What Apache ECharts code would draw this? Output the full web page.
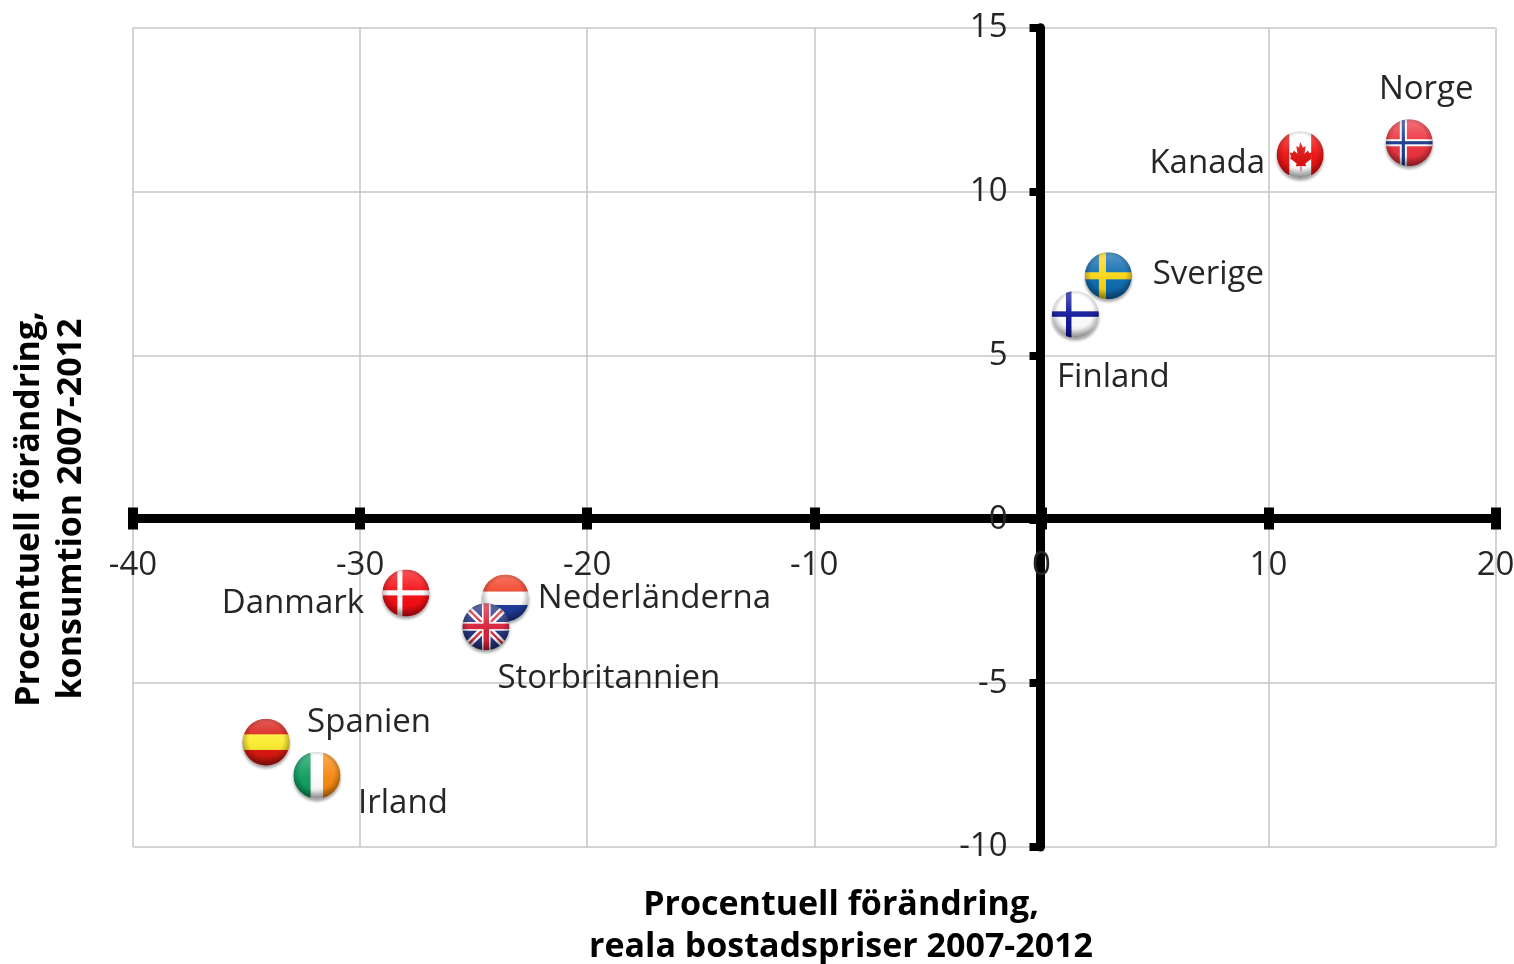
<!DOCTYPE html>
<html><head><meta charset="utf-8">
<style>html,body{margin:0;padding:0;background:#fff}#c{width:1514px;height:964px}</style>
<script src="https://cdn.jsdelivr.net/npm/echarts@6/dist/echarts.min.js"></script>
</head><body><div id="c"></div>
<script>
const countries = ['Norge','Kanada','Sverige','Finland','Danmark','Nederländerna','Storbritannien','Spanien','Irland'];
const housePrices = [16.2,11.4,2.95,1.5,-27.98,-23.6,-24.46,-34.14,-31.9];
const consumption = [11.49,11.13,7.43,6.25,-2.25,-2.4,-3.28,-6.8,-7.81];
const labelOffsets = {Norge:[17,-53],Kanada:[-93,9],Sverige:[100,-1],Finland:[38,63],Danmark:[-113,11],'Nederländerna':[149,1],Storbritannien:[123,52],Spanien:[103,-20],Irland:[86,28]};
const xAxisTitle = ['Procentuell förändring,','reala bostadspriser 2007-2012'];
const yAxisTitle = ['Procentuell förändring,','konsumtion 2007-2012'];

const FONT = '"Open Sans", sans-serif';
const TXT = '#262626';
const r = (x,y,w,h,c)=>`<rect x="${x}" y="${y}" width="${w}" height="${h}" fill="${c}"/>`;
const nordic = (bg,c1,c2)=> r(0,0,60,60,bg) + r(18,0,9,60,c1) + r(0,25.5,60,9,c1) + (c2? r(20.5,0,4,60,c2)+r(0,28,60,4,c2):'');
const flags = {
  Norge: nordic('#ee3440','#fff','#1f3a8c'),
  Kanada: r(0,0,60,60,'#fff')+r(0,0,16,60,'#ee1111')+r(44,0,16,60,'#ee1111')+
    '<path fill="#dd1111" d="M30 14l3.500 7 3.500-2-1.500 10 4.500-4 1.500 3 4-.5-2 6 2 1-9 7 1 3.500-6-.5v7h-1v-7l-6 .5 1-3.500-9-7 2-1-2-6 4 .5 1.500-3 4.500 4-1.500-10 3.500 2z"/>',
  Sverige: nordic('#0f6cb0','#fbd616'),
  Finland: r(0,0,60,60,'#fff') + r(18,0,7,60,'#10189a') + r(0,26,60,7,'#10189a'),
  Danmark: r(0,0,60,60,'#f50c14') + r(19,0,6.500,60,'#fff') + r(0,26.500,60,6.500,'#fff'),
  'Nederländerna': r(0,0,60,22,'#f23a1e')+r(0,22,60,17,'#fff')+r(0,39,60,21,'#1f3b9c'),
  Storbritannien: r(0,0,60,60,'#24357f')+
    '<path d="M0 0L60 60M60 0L0 60" stroke="#fff" stroke-width="9"/><path d="M0 0L60 60M60 0L0 60" stroke="#d8303f" stroke-width="3"/>'+
    r(25,0,11,60,'#fff')+r(0,24,60,11,'#fff')+r(27,0,7,60,'#d8203a')+r(0,26,60,7,'#d8203a'),
  Spanien: r(0,0,60,60,'#d81810')+r(0,20,60,20,'#fcec30'),
  Irland: r(0,0,22,60,'#0f9f60')+r(22,0,16,60,'#fff')+r(38,0,22,60,'#f88a10')
};
function flagSymbol(name){
  const svg = `<svg xmlns="http://www.w3.org/2000/svg" width="120" height="120" viewBox="0 0 60 60">
<defs>
<clipPath id="k"><circle cx="30" cy="30" r="23.5"/></clipPath>
<filter id="b" x="-30%" y="-30%" width="160%" height="160%"><feGaussianBlur stdDeviation="1.600"/></filter>
<radialGradient id="e" cx="50%" cy="45%" r="52%"><stop offset="70%" stop-color="#000" stop-opacity="0"/><stop offset="100%" stop-color="#000" stop-opacity=".28"/></radialGradient>
<linearGradient id="g" x1="0" y1="0" x2="0" y2="1"><stop offset="0" stop-color="#fff" stop-opacity=".30"/><stop offset=".45" stop-color="#fff" stop-opacity=".06"/><stop offset=".75" stop-color="#000" stop-opacity=".03"/><stop offset="1" stop-color="#000" stop-opacity=".22"/></linearGradient>
</defs>
<ellipse cx="30" cy="33" rx="23.500" ry="23" fill="#000" opacity=".38" filter="url(#b)"/>
<g clip-path="url(#k)"><g transform="translate(6.500,6.500) scale(.7833)">${flags[name]}</g>
<circle cx="30" cy="30" r="23.5" fill="url(#g)"/><circle cx="30" cy="30" r="23.5" fill="url(#e)"/></g>
</svg>`;
  return 'image://data:image/svg+xml;charset=utf-8,' + encodeURIComponent(svg);
}
const points = countries.map((name,i)=>({
  name, value:[housePrices[i],consumption[i]], symbol:flagSymbol(name), symbolSize:60,
  label:{offset:labelOffsets[name]}
}));
const gridLine = {show:true,lineStyle:{color:'#c6c6c6',width:1.500}};
const axisText = {fontFamily:FONT,fontSize:33,color:TXT};
const titleStyle = (text)=>({text:text.join('\n'),fontFamily:FONT,fontSize:34,fontWeight:'bold',fill:'#000',lineHeight:42,textAlign:'center',textVerticalAlign:'middle'});
// The axis lines sit at the zero crossing; offsets move line, ticks and labels together.
const X_AT_ZERO = -328.5, Y_AT_ZERO = -907.5;
const chart = echarts.init(document.getElementById('c'));
chart.setOption({
  animation:false,
  backgroundColor:'#fff',
  grid:{left:133,right:18.5,top:27.7,bottom:117,outerBoundsMode:'none'},
  xAxis:[
    {type:'value',position:'bottom',offset:X_AT_ZERO,min:-40,max:20,interval:10,
     axisLine:{show:true,onZero:false,lineStyle:{color:'#000',width:9}},
     axisTick:{show:true,length:11,lineStyle:{color:'#000',width:10}},
     axisLabel:{...axisText,margin:31},splitLine:gridLine},
    {type:'value',position:'bottom',offset:X_AT_ZERO,min:-40,max:20,interval:10,
     axisLine:{show:false,onZero:false},
     axisTick:{show:true,inside:true,length:11,lineStyle:{color:'#000',width:10}},
     axisLabel:{show:false},splitLine:{show:false}}
  ],
  yAxis:{type:'value',position:'left',offset:Y_AT_ZERO,min:-10,max:15,interval:5,
     axisLine:{show:true,onZero:false,lineStyle:{color:'#000',width:9}},
     axisTick:{show:true,length:11,lineStyle:{color:'#000',width:8}},
     axisLabel:{...axisText,margin:33,padding:[2,0,0,0]},splitLine:gridLine},
  series:[{type:'scatter',data:points,z:5,itemStyle:{opacity:1},
    label:{show:true,position:'inside',formatter:'{b}',align:'center',verticalAlign:'middle',fontFamily:FONT,fontSize:33,color:TXT,opacity:1}}],
  graphic:[
    {type:'text',x:841,y:926,z:10,style:titleStyle(xAxisTitle)},
    {type:'text',x:50.5,y:509,rotation:Math.PI/2,z:10,style:titleStyle(yAxisTitle)}
  ]
});
</script></body></html>
